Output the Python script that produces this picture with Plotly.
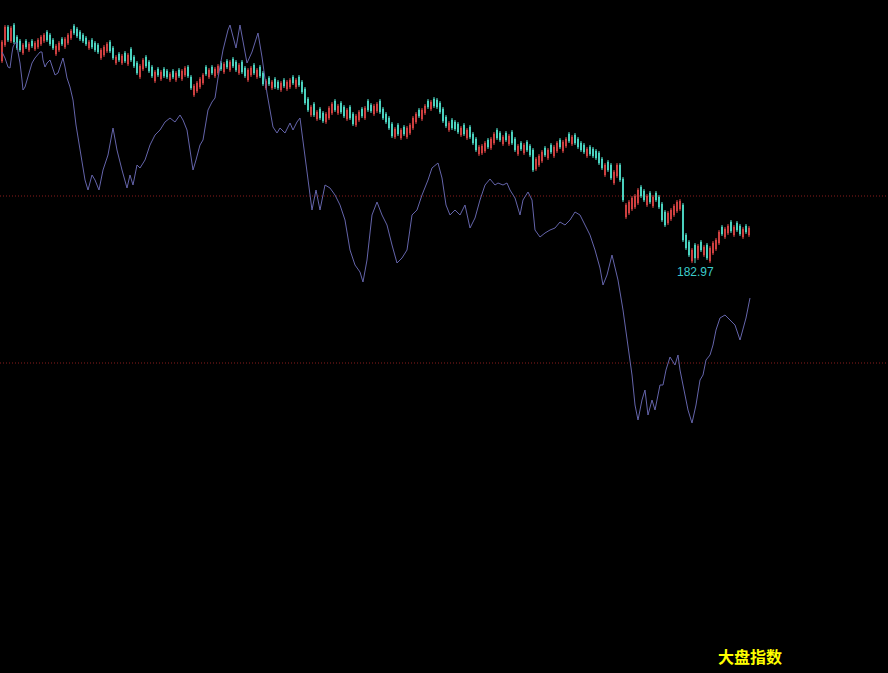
import plotly.graph_objects as go

# ---- stock candles (one per trading day) ----
OPEN = [233.5, 237.5, 242.0, 238.5, 242.5, 239.5, 238.5, 235.5, 238.5, 236.25,
        238.5, 236.5, 237.0, 237.75, 238.5, 240.75, 240.0, 238.75, 235.25, 236.25,
        239.0, 237.0, 238.0, 239.25, 242.25, 241.5, 240.75, 240.0, 239.25, 236.75,
        238.75, 238.0, 237.5, 234.25, 235.0, 236.0, 238.25, 236.75, 233.0, 235.25,
        233.0, 235.5, 232.75, 236.5, 234.5, 233.0, 229.5, 231.5, 234.5, 233.25,
        232.0, 228.5, 231.5, 229.0, 231.5, 231.0, 228.75, 231.0, 228.75, 231.25,
        229.0, 230.0, 232.0, 229.5, 225.0, 226.0, 227.0, 228.0, 232.0, 229.5,
        232.0, 229.75, 230.5, 233.0, 230.75, 233.5, 231.25, 234.0, 233.25, 230.5,
        233.25, 231.75, 228.75, 230.0, 232.5, 229.5, 232.0, 230.5, 226.75, 229.25,
        226.75, 229.0, 228.25, 226.25, 228.75, 226.5, 227.0, 229.5, 227.0, 229.5,
        228.25, 226.5, 224.0, 220.0, 222.75, 219.0, 221.5, 220.5, 218.25, 219.25,
        220.5, 223.5, 220.5, 223.0, 222.0, 219.0, 222.0, 220.25, 217.5, 218.75,
        221.5, 219.25, 223.5, 222.5, 220.25, 221.0, 223.5, 221.5, 220.25, 219.25,
        217.75, 214.5, 217.5, 214.25, 217.0, 214.5, 215.5, 216.75, 218.25, 221.25,
        219.0, 220.5, 223.5, 221.5, 224.0, 223.75, 223.0, 221.5, 219.5, 216.25,
        218.75, 218.25, 217.75, 215.0, 217.5, 214.25, 217.0, 215.25, 214.0, 210.25,
        210.5, 211.0, 213.75, 211.75, 213.0, 216.25, 215.5, 212.75, 215.5, 212.75,
        215.75, 214.0, 210.25, 213.0, 210.5, 213.25, 212.25, 211.25, 206.5, 207.5,
        208.5, 211.75, 209.25, 212.5, 209.75, 211.0, 213.75, 211.0, 212.25, 215.25,
        212.75, 215.0, 214.0, 213.0, 212.5, 209.75, 212.0, 211.5, 211.0, 210.5,
        209.0, 205.0, 208.25, 207.5, 203.0, 204.75, 207.5, 204.0, 194.5, 195.5,
        196.5, 197.0, 198.0, 202.0, 201.0, 197.5, 200.5, 197.25, 200.5, 199.5,
        197.75, 195.75, 193.0, 194.0, 195.0, 196.0, 196.5, 197.5, 190.0, 188.25,
        183.5, 187.5, 184.25, 188.25, 185.0, 187.5, 183.5, 185.5, 186.5, 188.0,
        192.0, 189.5, 190.5, 193.25, 190.0, 193.0, 192.25, 189.5, 192.25, 190.0]

CLOSE = [238.25, 242.0, 238.75, 241.75, 238.25, 236.75, 236.25, 237.5, 237.0, 237.75,
         237.25, 238.0, 238.75, 239.5, 240.0, 238.75, 237.75, 236.75, 237.25, 238.0,
         237.75, 239.0, 240.0, 241.0, 240.5, 239.75, 239.0, 238.5, 237.75, 238.25,
         237.0, 236.25, 235.75, 236.25, 237.0, 237.75, 236.0, 234.25, 234.5, 233.75,
         234.75, 233.5, 235.0, 233.75, 232.25, 230.5, 232.25, 233.75, 232.25, 231.0,
         229.75, 230.75, 230.0, 230.75, 229.75, 229.5, 230.25, 229.5, 230.5, 229.75,
         231.0, 231.75, 229.75, 226.75, 227.25, 228.0, 229.0, 230.0, 230.25, 231.25,
         230.5, 231.5, 232.25, 231.5, 232.75, 232.0, 233.25, 232.25, 231.25, 232.5,
         230.75, 229.75, 231.25, 231.75, 230.5, 231.25, 229.75, 227.75, 228.5, 227.75,
         228.25, 227.0, 226.75, 228.0, 227.25, 228.25, 228.75, 228.0, 228.75, 227.5,
         225.75, 223.0, 221.25, 222.0, 220.0, 220.75, 219.25, 218.5, 220.25, 221.75,
         222.75, 221.25, 222.25, 220.75, 219.75, 221.25, 219.25, 217.75, 219.75, 220.75,
         219.75, 221.75, 221.25, 221.0, 222.25, 222.75, 220.75, 219.25, 218.25, 216.75,
         214.75, 216.5, 215.25, 216.25, 215.25, 216.75, 217.5, 219.25, 220.25, 219.75,
         221.25, 222.25, 222.0, 223.25, 222.25, 222.0, 220.75, 218.5, 217.25, 218.0,
         216.75, 216.5, 215.75, 216.75, 215.25, 216.25, 214.5, 213.0, 211.25, 212.0,
         212.25, 213.0, 212.0, 214.0, 215.25, 214.25, 213.75, 214.5, 213.75, 214.75,
         213.0, 211.25, 212.25, 211.5, 212.5, 211.25, 210.0, 206.25, 209.0, 209.75,
         210.75, 210.0, 211.25, 210.75, 212.0, 213.0, 212.0, 213.25, 214.0, 213.5,
         214.5, 213.0, 212.0, 211.25, 210.75, 211.5, 210.25, 209.75, 209.25, 208.0,
         206.75, 207.5, 206.25, 204.25, 205.75, 207.5, 203.75, 198.75, 197.5, 198.25,
         199.25, 199.75, 201.25, 199.75, 198.75, 199.75, 198.25, 199.5, 198.75, 197.0,
         193.75, 192.5, 195.5, 196.25, 197.25, 198.25, 198.5, 188.75, 186.75, 185.0,
         186.25, 184.25, 187.25, 186.25, 187.0, 184.25, 186.75, 188.0, 188.75, 190.75,
         190.25, 191.5, 192.25, 191.0, 192.0, 191.25, 190.25, 191.5, 190.75, 191.75]

HIGH = [238.75, 242.5, 242.5, 242.25, 243.0, 240.0, 239.0, 238.0, 239.0, 238.25,
        239.0, 238.5, 239.25, 240.0, 240.5, 241.25, 240.5, 239.25, 237.75, 238.5,
        239.5, 239.5, 240.5, 241.5, 242.75, 242.0, 241.25, 240.5, 239.75, 238.75,
        239.25, 238.5, 238.0, 236.75, 237.5, 238.25, 238.75, 237.25, 235.0, 235.75,
        235.25, 236.0, 235.5, 237.0, 235.0, 233.5, 232.75, 234.25, 235.0, 233.75,
        232.5, 231.25, 232.0, 231.25, 232.0, 231.5, 230.75, 231.5, 231.0, 231.75,
        231.5, 232.25, 232.5, 230.0, 227.75, 228.5, 229.5, 230.5, 232.5, 231.75,
        232.5, 232.0, 232.75, 233.5, 233.25, 234.0, 233.75, 234.5, 233.75, 233.0,
        233.75, 232.25, 231.75, 232.25, 233.0, 231.75, 232.5, 231.0, 229.0, 229.75,
        228.75, 229.5, 228.75, 228.5, 229.25, 228.75, 229.25, 230.0, 229.25, 230.0,
        228.75, 227.0, 224.5, 222.5, 223.25, 221.25, 222.0, 221.0, 220.75, 222.25,
        223.25, 224.0, 222.75, 223.5, 222.5, 221.75, 222.5, 220.75, 220.25, 221.25,
        222.0, 222.25, 224.0, 223.0, 222.75, 223.25, 224.0, 222.0, 220.75, 219.75,
        218.25, 217.0, 218.0, 216.75, 217.5, 217.25, 218.0, 219.75, 220.75, 221.75,
        221.75, 222.75, 224.0, 223.75, 224.5, 224.25, 223.5, 222.0, 220.0, 218.5,
        219.25, 218.75, 218.25, 217.25, 218.0, 216.75, 217.5, 215.75, 214.5, 212.5,
        212.75, 213.5, 214.25, 214.5, 215.75, 216.75, 216.0, 215.0, 216.0, 215.25,
        216.25, 214.5, 212.75, 213.5, 213.0, 213.75, 212.75, 211.75, 209.5, 210.25,
        211.25, 212.25, 211.75, 213.0, 212.5, 213.5, 214.25, 213.75, 214.5, 215.75,
        215.0, 215.5, 214.5, 213.5, 213.0, 212.0, 212.5, 212.0, 211.5, 211.0,
        209.5, 208.0, 208.75, 208.0, 206.25, 208.0, 208.0, 204.5, 198.0, 198.75,
        199.75, 200.25, 201.75, 202.5, 201.5, 200.25, 201.0, 200.0, 201.0, 200.0,
        198.25, 196.25, 196.0, 196.75, 197.75, 198.75, 199.0, 198.0, 190.5, 188.75,
        186.75, 188.0, 187.75, 188.75, 187.5, 188.0, 187.25, 188.5, 189.25, 191.25,
        192.5, 192.0, 192.75, 193.75, 192.5, 193.5, 192.75, 192.0, 192.75, 192.25]

LOW = [233.0, 237.0, 238.25, 238.0, 237.75, 236.25, 235.75, 235.0, 236.5, 235.75,
       236.75, 236.0, 236.5, 237.25, 238.0, 238.25, 237.25, 236.25, 234.75, 235.75,
       237.25, 236.5, 237.5, 238.75, 240.0, 239.25, 238.5, 238.0, 237.25, 236.25,
       236.5, 235.75, 235.25, 233.75, 234.5, 235.5, 235.5, 233.75, 232.5, 233.25,
       232.5, 233.0, 232.25, 233.25, 231.75, 230.0, 229.0, 231.0, 231.75, 230.5,
       229.25, 228.0, 229.5, 228.5, 229.25, 229.0, 228.25, 229.0, 228.25, 229.25,
       228.5, 229.5, 229.25, 226.25, 224.5, 225.5, 226.5, 227.5, 229.75, 229.0,
       230.0, 229.25, 230.0, 231.0, 230.25, 231.5, 230.75, 231.75, 230.75, 230.0,
       230.25, 229.25, 228.25, 229.5, 230.0, 229.0, 229.25, 227.25, 226.25, 227.25,
       226.25, 226.5, 226.25, 225.75, 226.75, 226.0, 226.5, 227.5, 226.5, 227.0,
       225.25, 222.5, 220.75, 219.5, 219.5, 218.5, 218.75, 218.0, 217.75, 218.75,
       220.0, 220.75, 220.0, 220.25, 219.25, 218.5, 218.75, 217.25, 217.0, 218.25,
       219.25, 218.75, 220.75, 220.5, 219.75, 220.5, 220.25, 218.75, 217.75, 216.25,
       214.25, 214.0, 214.75, 213.75, 214.75, 214.0, 215.0, 216.25, 217.75, 219.25,
       218.5, 220.0, 221.5, 221.0, 221.75, 221.5, 220.25, 218.0, 216.75, 215.75,
       216.25, 216.0, 215.25, 214.5, 214.75, 213.75, 214.0, 212.5, 210.75, 209.75,
       210.0, 210.5, 211.5, 211.25, 212.5, 213.75, 213.25, 212.25, 213.25, 212.25,
       212.5, 210.75, 209.75, 211.0, 210.0, 210.75, 209.5, 205.75, 206.0, 207.0,
       208.0, 209.5, 208.75, 210.25, 209.25, 210.5, 211.5, 210.5, 211.75, 213.0,
       212.25, 212.5, 211.5, 210.75, 210.25, 209.25, 209.75, 209.25, 208.75, 207.5,
       206.25, 204.5, 205.75, 203.75, 202.5, 204.25, 203.25, 198.25, 194.0, 195.0,
       196.0, 196.5, 197.5, 199.25, 198.25, 197.0, 197.75, 196.75, 198.25, 196.5,
       193.25, 192.0, 192.5, 193.5, 194.5, 195.5, 196.0, 188.25, 186.25, 184.5,
       183.0, 182.97, 183.75, 185.75, 184.5, 183.75, 183.0, 185.0, 186.0, 187.5,
       189.75, 189.0, 190.0, 190.5, 189.5, 190.75, 189.75, 189.0, 190.25, 189.5]

DAYS = list(range(len(OPEN)))

# ---- market index overlay (大盘指数) ----
IDX_DAY = [0, 1.0, 2.0, 2.67, 3.33, 3.67, 4.33, 5.0, 5.33, 6.0, 6.67, 7.0, 7.67, 8.67, 10.0, 11.0,
           12.67, 13.33, 13.67, 14.33, 15.0, 16.0, 16.67, 17.67, 18.67, 20.0, 20.33, 21.0, 21.67,
           22.67, 23.67, 24.67, 26.0, 27.0, 27.67, 28.67, 30.0, 31.0, 32.33, 33.67, 35.33, 37.0,
           38.33, 40.0, 41.67, 42.67, 43.67, 45.0, 46.0, 47.67, 49.33, 51.0, 52.67, 54.33, 56.0,
           57.67, 59.33, 60.33, 61.67, 62.67, 63.67, 64.67, 66.0, 67.0, 68.67, 70.0, 71.0, 72.0,
           73.67, 75.33, 76.0, 78.0, 79.33, 81.67, 83.33, 85.33, 86.67, 88.33, 89.33, 90.33,
           91.67, 92.67, 94.33, 96.0, 97.0, 98.33, 99.33, 100.33, 102.0, 103.33, 104.67, 106.0,
           107.67, 109.33, 111.0, 112.67, 114.33, 116.0, 117.67, 119.33, 120.33, 121.67, 123.33,
           125.0, 126.67, 128.33, 130.0, 131.67, 133.33, 135.0, 136.67, 138.33, 140.0, 142.0,
           143.33, 145.33, 146.67, 148.0, 149.33, 151.0, 152.67, 154.33, 156.0, 157.67, 159.33,
           161.0, 162.67, 164.33, 165.33, 167.0, 168.33, 169.33, 171.0, 172.67, 173.67, 175.33,
           176.67, 177.67, 179.33, 181.0, 182.67, 184.33, 186.0, 187.67, 189.33, 191.0, 192.67,
           194.33, 196.0, 197.67, 199.33, 200.33, 201.67, 203.33, 205.33, 207.0, 208.67, 210.0,
           211.0, 212.0, 213.33, 214.33, 215.33, 216.67, 217.67, 219.33, 220.33, 221.33, 222.67,
           224.33, 225.33, 226.0, 227.33, 228.67, 230.0, 231.33, 232.67, 233.67, 234.67, 236.0,
           237.0, 238.0, 239.33, 241.0, 242.67, 244.33, 246.0, 247.0, 248.0, 249.33]
IDX_VAL = [3546, 3534, 3516, 3514, 3544, 3556, 3564, 3564, 3546, 3524, 3490, 3470, 3476, 3496, 3524, 3534,
           3546, 3546, 3530, 3516, 3524, 3530, 3516, 3500, 3504, 3530, 3534, 3516, 3494,
           3476, 3450, 3400, 3350, 3310, 3290, 3270, 3300, 3290, 3270, 3310, 3340, 3394,
           3350, 3310, 3274, 3300, 3280, 3320, 3314, 3330, 3360, 3380, 3390, 3406, 3414,
           3406, 3420, 3410, 3390, 3350, 3310, 3330, 3360, 3370, 3430, 3446, 3454, 3494,
           3550, 3590, 3600, 3554, 3600, 3524, 3546, 3584, 3536, 3464, 3426, 3396,
           3384, 3394, 3384, 3404, 3390, 3406, 3414, 3370, 3290, 3230, 3270, 3230,
           3280, 3274, 3260, 3240, 3210, 3150, 3120, 3106, 3086, 3130, 3220,
           3246, 3220, 3200, 3160, 3124, 3134, 3150, 3220, 3230, 3260, 3290,
           3314, 3324, 3294, 3240, 3220, 3230, 3220, 3240, 3194, 3214, 3250,
           3280, 3292, 3280, 3284, 3280, 3284, 3270, 3254, 3220, 3250, 3266,
           3250, 3190, 3176, 3184, 3190, 3194, 3206, 3200, 3210, 3226, 3220,
           3200, 3180, 3150, 3114, 3080, 3100, 3140, 3090, 3030, 2960, 2900,
           2840, 2810, 2850, 2870, 2820, 2850, 2830, 2880, 2880, 2910, 2936,
           2920, 2940, 2910, 2870, 2830, 2804, 2840, 2890, 2900, 2930, 2940,
           2960, 2990, 3014, 3020, 3010, 3000, 2970, 2990, 3014, 3054]

GRID_LEVELS = [199.75, 158.0]
LOW_LABEL = "182.97"
LOW_DAY = 231
LOW_PRICE = 182.97
TITLE = "大盘指数"

fig = go.Figure()

fig.add_trace(go.Candlestick(
    x=DAYS, open=OPEN, high=HIGH, low=LOW, close=CLOSE,
    increasing=dict(line=dict(color="#d84444", width=1), fillcolor="#d84444"),
    decreasing=dict(line=dict(color="#4fdcc8", width=1), fillcolor="#4fdcc8"),
    whiskerwidth=0, showlegend=False, hoverinfo="skip",
))

fig.add_trace(go.Scatter(
    x=IDX_DAY, y=IDX_VAL, mode="lines", yaxis="y2",
    line=dict(color="#6464aa", width=1), showlegend=False, hoverinfo="skip",
))

for lv in GRID_LEVELS:
    fig.add_shape(type="line", xref="paper", x0=0, x1=1, yref="y", y0=lv, y1=lv,
                  line=dict(color="#8a1c1c", width=1, dash="1px,2px"), layer="below")

fig.add_annotation(x=LOW_DAY, y=LOW_PRICE, text=LOW_LABEL, showarrow=False,
                   xanchor="center", yanchor="top", yshift=0,
                   font=dict(family="Liberation Sans, Arial", size=12, color="#3ccccc"))

fig.add_annotation(x=750 / 888, y=1 - 656 / 673, xref="paper", yref="paper",
                   text="<b>" + TITLE + "</b>", showarrow=False,
                   xanchor="center", yanchor="middle",
                   font=dict(family="Noto Sans CJK SC", size=16, color="#ffff00"))

fig.update_layout(
    width=888, height=673,
    margin=dict(l=0, r=0, t=0, b=0),
    paper_bgcolor="#000000", plot_bgcolor="#000000",
    showlegend=False,
    boxgap=0.6,
    xaxis=dict(range=[-0.667, 295.333], visible=False, rangeslider=dict(visible=False),
               showgrid=False, zeroline=False),
    yaxis=dict(range=[80.5, 248.75], visible=False, showgrid=False, zeroline=False),
    yaxis2=dict(range=[2304, 3650], overlaying="y", visible=False, showgrid=False, zeroline=False),
)

fig.write_html("out.html", config={"displayModeBar": False},
               post_script="document.body.style.margin='0';document.body.style.background='#000';document.body.style.overflow='hidden';")
